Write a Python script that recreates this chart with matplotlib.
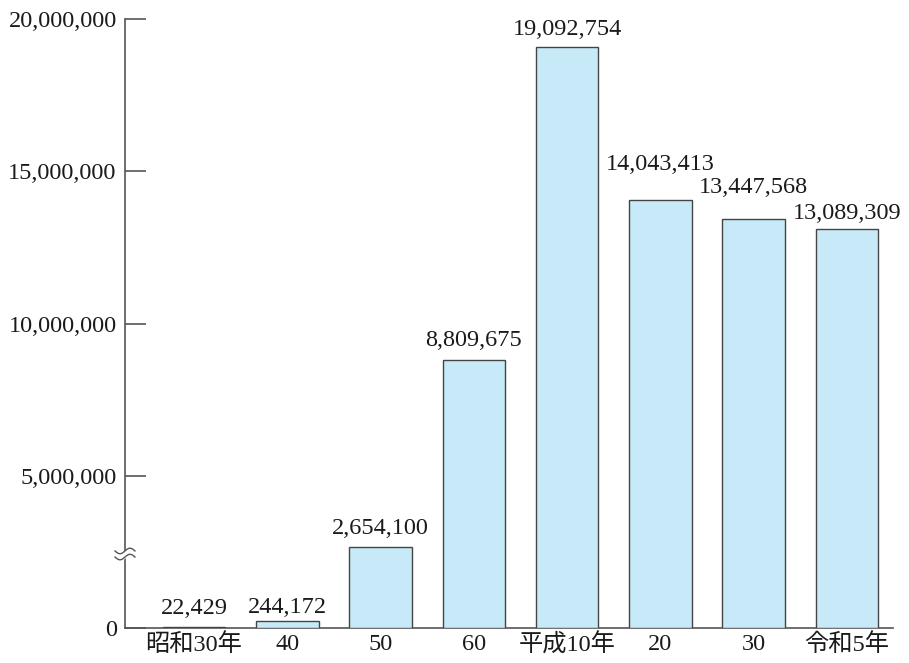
import matplotlib.pyplot as plt
import numpy as np

# visitors per year
years = ['昭和30年', '40', '50', '60', '平成10年', '20', '30', '令和5年']
counts = [22429, 244172, 2654100, 8809675, 19092754, 14043413, 13447568, 13089309]
yticks = [0, 5000000, 10000000, 15000000, 20000000]

# extra lift (points) for value labels that would collide with neighbours
label_lift = [1, -3, 1, 1, 0, 13, 9.5, -1]

plt.rcParams['font.family'] = ['Liberation Serif', 'Noto Sans CJK JP']

fig = plt.figure(figsize=(9.09, 6.63), dpi=100)
ax = fig.add_axes([0.1375, 0.0528, 0.8445, 0.9185])

x = np.arange(len(years))
ax.bar(x, counts, width=0.67, color='#c8e9f8', edgecolor='#444444', linewidth=1.0, zorder=3)

for xi, c, lift in zip(x, counts, label_lift):
    ax.annotate(f'{c:,}', (xi, c), xytext=(0, 5 + lift), textcoords='offset points',
                ha='center', va='bottom', fontsize=17.5, color='#1a1a1a')

ax.set_xlim(-0.74, 7.49)
ax.set_ylim(0, 20000000)
ax.set_xticks(x)
ax.set_xticklabels(years, fontsize=17.5, color='#1a1a1a')
ax.set_yticks(yticks)
ax.set_yticklabels([f'{t:,}' for t in yticks], fontsize=17.5, color='#1a1a1a')
ax.tick_params(axis='x', length=0, pad=4)
ax.tick_params(axis='y', direction='in', length=15, width=1.2, color='#555555', pad=6)
for s in ['top', 'right']:
    ax.spines[s].set_visible(False)
for s in ['left', 'bottom']:
    ax.spines[s].set_color('#555555')
    ax.spines[s].set_linewidth(1.2)

# break marks on the y axis
tr = ax.get_yaxis_transform()
t = np.linspace(-0.013, 0.013, 40)
wave = 90000 * np.sin(t / 0.013 * np.pi)
lo, hi = 2330000, 2530000
ax.fill_between(t, lo + wave, hi + wave, transform=tr, color='white',
                clip_on=False, zorder=4)
for off in (lo, hi):
    ax.plot(t, off + wave, transform=tr, color='#555555', lw=1.0,
            clip_on=False, zorder=5)

fig.savefig('out.png', dpi=100)
